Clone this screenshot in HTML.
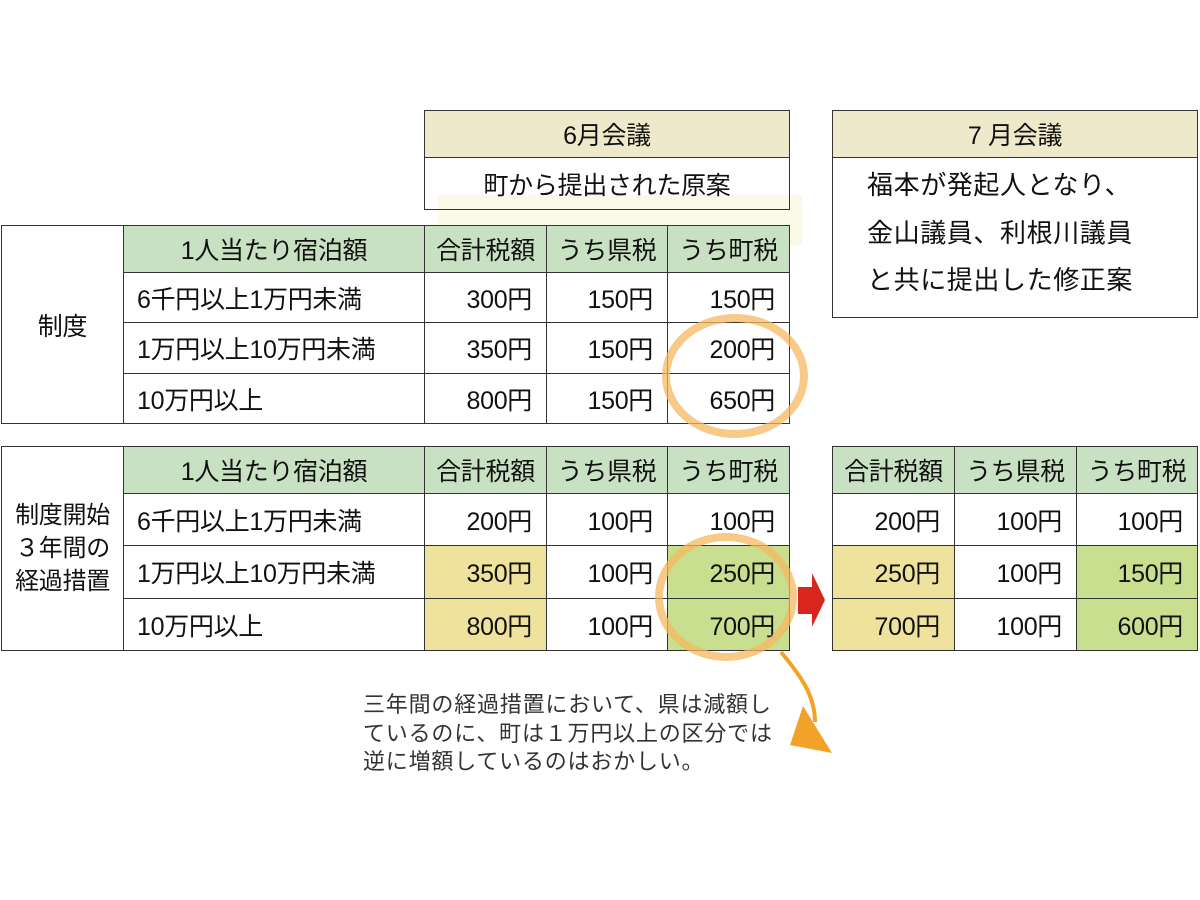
<!DOCTYPE html>
<html><head><meta charset="utf-8"><style>
body{margin:0;width:1200px;height:900px;background:#fff;position:relative;overflow:hidden;font-family:"Liberation Sans","Noto Sans CJK JP",sans-serif;color:#111}
.c{position:absolute;box-sizing:border-box;border:1.5px solid #333;display:flex;align-items:center;font-size:25px;white-space:nowrap;letter-spacing:-0.3px}
.h{background:#c9e1c3;justify-content:center}
.b{background:#efe9cb;justify-content:center}
.r{justify-content:flex-end;padding-right:14px}
.l{padding-left:13px}
.y{background:#eee29c}
.g{background:#c8df90}
.m{justify-content:center}
</style></head><body>
<div style="position:absolute;left:438px;top:195px;width:364px;height:50px;background:#fbfae8"></div>

<div class="c b" style="left:424px;top:110px;width:366px;height:48px">6月会議</div>
<div class="c m" style="left:424px;top:157px;width:366px;height:53px;background:transparent">町から提出された原案</div>

<div class="c b" style="left:832px;top:110px;width:366px;height:48px">7 月会議</div>
<div class="c" style="left:832px;top:157px;width:366px;height:161px;display:block;padding:4px 0 0 34px;line-height:47.5px;font-size:26px;letter-spacing:0.6px">福本が発起人となり、<br>金山議員、利根川議員<br>と共に提出した修正案</div>

<div class="c m" style="left:1px;top:225px;width:123px;height:199px">制度</div>
<div class="c h" style="left:123px;top:225px;width:302px;height:48px">1人当たり宿泊額</div>
<div class="c h" style="left:424px;top:225px;width:123px;height:48px">合計税額</div>
<div class="c h" style="left:546px;top:225px;width:122px;height:48px">うち県税</div>
<div class="c h" style="left:667px;top:225px;width:123px;height:48px">うち町税</div>

<div class="c l" style="left:123px;top:272px;width:302px;height:51px">6千円以上1万円未満</div>
<div class="c r" style="left:424px;top:272px;width:123px;height:51px">300円</div>
<div class="c r" style="left:546px;top:272px;width:122px;height:51px">150円</div>
<div class="c r" style="left:667px;top:272px;width:123px;height:51px">150円</div>

<div class="c l" style="left:123px;top:322px;width:302px;height:52px">1万円以上10万円未満</div>
<div class="c r" style="left:424px;top:322px;width:123px;height:52px">350円</div>
<div class="c r" style="left:546px;top:322px;width:122px;height:52px">150円</div>
<div class="c r" style="left:667px;top:322px;width:123px;height:52px">200円</div>

<div class="c l" style="left:123px;top:373px;width:302px;height:51px">10万円以上</div>
<div class="c r" style="left:424px;top:373px;width:123px;height:51px">800円</div>
<div class="c r" style="left:546px;top:373px;width:122px;height:51px">150円</div>
<div class="c r" style="left:667px;top:373px;width:123px;height:51px">650円</div>

<div class="c m" style="left:1px;top:446px;width:123px;height:205px;line-height:33px;text-align:center;white-space:normal;font-size:24px">制度開始<br>３年間の<br>経過措置</div>
<div class="c h" style="left:123px;top:446px;width:302px;height:48px">1人当たり宿泊額</div>
<div class="c h" style="left:424px;top:446px;width:123px;height:48px">合計税額</div>
<div class="c h" style="left:546px;top:446px;width:122px;height:48px">うち県税</div>
<div class="c h" style="left:667px;top:446px;width:123px;height:48px">うち町税</div>

<div class="c l" style="left:123px;top:493px;width:302px;height:53px">6千円以上1万円未満</div>
<div class="c r" style="left:424px;top:493px;width:123px;height:53px">200円</div>
<div class="c r" style="left:546px;top:493px;width:122px;height:53px">100円</div>
<div class="c r" style="left:667px;top:493px;width:123px;height:53px">100円</div>

<div class="c l" style="left:123px;top:545px;width:302px;height:54px">1万円以上10万円未満</div>
<div class="c r y" style="left:424px;top:545px;width:123px;height:54px">350円</div>
<div class="c r" style="left:546px;top:545px;width:122px;height:54px">100円</div>
<div class="c r g" style="left:667px;top:545px;width:123px;height:54px">250円</div>

<div class="c l" style="left:123px;top:598px;width:302px;height:53px">10万円以上</div>
<div class="c r y" style="left:424px;top:598px;width:123px;height:53px">800円</div>
<div class="c r" style="left:546px;top:598px;width:122px;height:53px">100円</div>
<div class="c r g" style="left:667px;top:598px;width:123px;height:53px">700円</div>

<div class="c h" style="left:832px;top:446px;width:123px;height:48px">合計税額</div>
<div class="c h" style="left:954px;top:446px;width:123px;height:48px">うち県税</div>
<div class="c h" style="left:1076px;top:446px;width:122px;height:48px">うち町税</div>
<div class="c r" style="left:832px;top:493px;width:123px;height:53px">200円</div>
<div class="c r" style="left:954px;top:493px;width:123px;height:53px">100円</div>
<div class="c r" style="left:1076px;top:493px;width:122px;height:53px">100円</div>
<div class="c r y" style="left:832px;top:545px;width:123px;height:54px">250円</div>
<div class="c r" style="left:954px;top:545px;width:123px;height:54px">100円</div>
<div class="c r g" style="left:1076px;top:545px;width:122px;height:54px">150円</div>
<div class="c r y" style="left:832px;top:598px;width:123px;height:53px">700円</div>
<div class="c r" style="left:954px;top:598px;width:123px;height:53px">100円</div>
<div class="c r g" style="left:1076px;top:598px;width:122px;height:53px">600円</div>

<svg width="1200" height="900" style="position:absolute;left:0;top:0">
<ellipse cx="735" cy="376" rx="69" ry="58" fill="none" stroke="#f5b860" stroke-opacity="0.75" stroke-width="8"/>
<ellipse cx="726" cy="597" rx="67" ry="60" fill="none" stroke="#f5b860" stroke-opacity="0.75" stroke-width="8"/>
<polygon points="798,587 812,587 812,573 825,600 812,627 812,614 798,614" fill="#d9261c"/>
<path d="M781,652 C800,675 815,695 815,722" fill="none" stroke="#f2a229" stroke-width="4"/>
<polygon points="790,745 832,753 803,706" fill="#f2a229"/>
</svg>

<div style="position:absolute;left:363px;top:691px;font-size:22px;line-height:28.5px;color:#333;white-space:nowrap;letter-spacing:0.8px">三年間の経過措置において、県は減額し<br>ているのに、町は１万円以上の区分では<br>逆に増額しているのはおかしい。</div>
</body></html>
